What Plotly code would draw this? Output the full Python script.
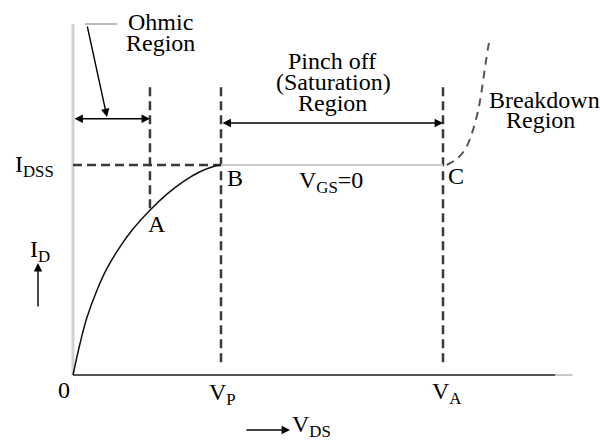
import plotly.graph_objects as go

# JFET drain characteristic for V_GS = 0 (V_DS in volts, I_D in mA)
VP = 4.0        # pinch-off voltage
VA = 10.0       # avalanche breakdown voltage
V_POINT_A = 2.08  # point A, inside the ohmic region
IDSS = 10.0     # saturation drain current
V_END = 13.5    # length of the V_DS axis
I_END = 16.7    # height of the I_D axis
V_DARK_END = 13.03  # darker part of the V_DS axis ends here

# ohmic region: current rising from the origin up to pinch-off
vds_ohmic = [0, 0.19, 0.37, 0.64, 0.91, 1.27, 1.62, 2.08, 2.53, 2.97, 3.43, 3.78, 4.0]
id_ohmic = [0, 1.5, 2.7, 4.0, 5.05, 6.1, 6.95, 7.85, 8.6, 9.2, 9.68, 9.92, 10.0]

# pinch-off (saturation) plateau
vds_sat = [VP, VA]
id_sat = [IDSS, IDSS]

# breakdown region beyond VA
vds_bd = [10.1, 10.38, 10.6, 10.78, 10.95, 11.05, 11.14, 11.22, 11.27]
id_bd = [10.0, 10.3, 10.75, 11.5, 12.6, 13.6, 14.7, 15.6, 16.05]

# guide lines
guide_top = 13.7      # top of the dashed region boundaries
guide_bottom = 0.38   # bottom of the VP / VA boundaries
id_at_a = 7.85        # the A boundary stops on the curve
arrow_ohmic_i = 12.2
arrow_sat_i = 12.0

W, H = 600, 440
X0_PX, Y0_PX = 73, 375   # origin in pixels
SX, SY = 37.0, 21.0      # pixels per volt / per mA
x_range = [-X0_PX / SX, (W - X0_PX) / SX]
y_range = [-(H - Y0_PX) / SY, Y0_PX / SY]

FONT = "Liberation Serif, 'Times New Roman', Times, serif"
FS = 24
DASH_COLOR = "#3a3a3a"

fig = go.Figure()


def line(xs, ys, color, width, dash="solid", shape="linear"):
    fig.add_trace(go.Scatter(
        x=xs, y=ys, mode="lines", hoverinfo="skip", showlegend=False,
        line=dict(color=color, width=width, dash=dash, shape=shape),
    ))


# axes
line([0, 0], [0, I_END], "#d2d2d2", 3)
line([V_DARK_END, V_END], [0, 0], "#c8c8c8", 2)
line([0, V_DARK_END], [0, 0], "#555555", 2)

# dashed boundaries
line([0, VP], [IDSS, IDSS], DASH_COLOR, 2.5, dash="9px,5px")
line([V_POINT_A, V_POINT_A], [guide_top, id_at_a], DASH_COLOR, 2.5, dash="9px,5px")
line([VP, VP], [guide_top, guide_bottom], DASH_COLOR, 2.5, dash="9px,5px")
line([VA, VA], [guide_top, guide_bottom], DASH_COLOR, 2.5, dash="9px,5px")

# characteristic
line(vds_sat, id_sat, "#cdcdcd", 2)
line(vds_ohmic, id_ohmic, "#111111", 1.5, shape="spline")
line(vds_bd, id_bd, "#555555", 2, dash="8px,6px", shape="spline")


def px(x, y):
    return x / W, 1 - y / H


annotations = []


def label(text, x, y, anchor="center", size=FS):
    xp, yp = px(x, y)
    annotations.append(dict(
        text=text, x=xp, y=yp, xref="paper", yref="paper",
        xanchor=anchor, yanchor="middle", showarrow=False,
        font=dict(family=FONT, size=size, color="black"),
    ))


def data_arrow(x0, y0, x1, y1, both=False):
    annotations.append(dict(
        text="", x=x1, y=y1, ax=x0, ay=y0, xref="x", yref="y",
        axref="x", ayref="y", showarrow=True, arrowhead=2,
        arrowsize=1.2, arrowwidth=1.4, arrowcolor="black",
        arrowside="end+start" if both else "end",
        standoff=0, startstandoff=0,
    ))


def pixel_arrow(x0, y0, x1, y1):
    xp, yp = px(x1, y1)
    annotations.append(dict(
        text="", x=xp, y=yp, xref="paper", yref="paper",
        axref="pixel", ayref="pixel", ax=x0 - x1, ay=y0 - y1,
        showarrow=True, arrowhead=2, arrowsize=1.2, arrowwidth=1.4,
        arrowcolor="black", standoff=0,
    ))


# region arrows
data_arrow(0, arrow_ohmic_i, V_POINT_A, arrow_ohmic_i, both=True)
data_arrow(VP, arrow_sat_i, VA, arrow_sat_i, both=True)

# ohmic region callout
pixel_arrow(87, 25, 107, 117)
fig.add_shape(type="line", xref="paper", yref="paper",
              x0=85 / W, x1=117 / W, y0=1 - 24 / H, y1=1 - 24 / H,
              line=dict(color="#bbbbbb", width=2))

# axis direction arrows
pixel_arrow(38, 308, 38, 263)
pixel_arrow(245, 430, 290, 430)

# text
label("Ohmic", 160, 22)
label("Region", 160, 43)
label("Pinch off", 332, 61)
label("(Saturation)", 333, 82)
label("Region", 332, 103)
label("Breakdown", 487, 100, anchor="left")
label("Region", 540, 120)
label("I<sub>DSS</sub>", 13, 166, anchor="left")
label("A", 157, 224)
label("B", 235, 178)
label("C", 456, 176)
label("V<sub>GS</sub>=0", 297, 182, anchor="left")
label("I<sub>D</sub>", 28, 251, anchor="left")
label("0", 64, 390)
label("V<sub>P</sub>", 207, 394, anchor="left")
label("V<sub>A</sub>", 430, 393, anchor="left")
label("V<sub>DS</sub>", 290, 426, anchor="left")

fig.update_layout(
    width=W, height=H,
    margin=dict(l=0, r=0, t=0, b=0),
    paper_bgcolor="white", plot_bgcolor="white",
    xaxis=dict(range=x_range, visible=False, fixedrange=True),
    yaxis=dict(range=y_range, visible=False, fixedrange=True),
    annotations=annotations,
    showlegend=False,
)

fig.write_html("out.html", config={"displayModeBar": False})
